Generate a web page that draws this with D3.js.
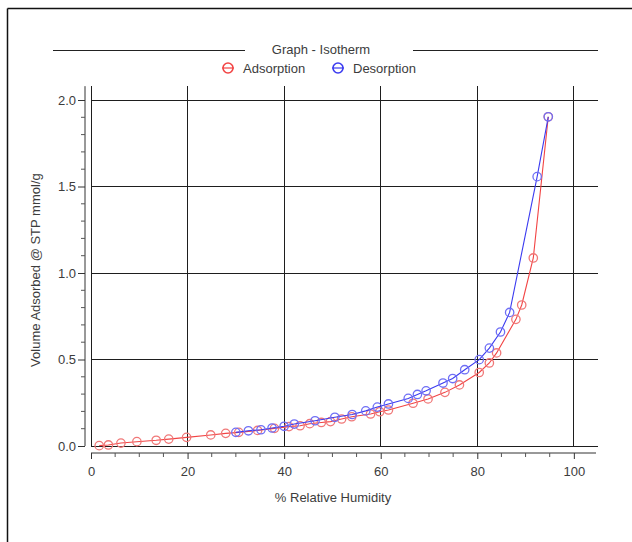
<!DOCTYPE html>
<html><head><meta charset="utf-8">
<script src="https://cdn.jsdelivr.net/npm/d3@7"></script>
<style>
html,body{margin:0;padding:0;background:#fff;}
svg{display:block;font-family:"Liberation Sans",Arial,sans-serif;}
</style></head>
<body>
<svg id="chart" width="632" height="542"></svg>
<script>
const title = "Graph - Isotherm";
const xLabel = "% Relative Humidity";
const yLabel = "Volume Adsorbed @ STP mmol/g";
const seriesNames = ["Adsorption", "Desorption"];
const xTicks = [0, 20, 40, 60, 80, 100];
const yTicks = [0, 0.5, 1.0, 1.5, 2.0];

const adsRH = [1.7, 3.6, 6.2, 9.5, 13.5, 16.1, 19.8, 24.8, 27.9, 30.6, 34.5, 38.0, 41.0, 43.3, 45.3, 47.7, 49.6, 51.9, 54.0, 57.9, 59.8, 61.6, 66.7, 69.8, 73.3, 76.3, 80.4, 82.5, 84.0, 88.0, 89.2, 91.6, 94.7];
const adsVol = [0.002, 0.006, 0.017, 0.025, 0.033, 0.040, 0.050, 0.064, 0.073, 0.079, 0.090, 0.102, 0.112, 0.117, 0.129, 0.136, 0.141, 0.156, 0.169, 0.185, 0.198, 0.208, 0.247, 0.272, 0.310, 0.353, 0.425, 0.480, 0.538, 0.732, 0.815, 1.087, 1.903];

const desRH = [30.0, 32.6, 35.2, 37.5, 40.0, 42.1, 46.4, 50.5, 54.1, 56.9, 59.3, 61.6, 65.7, 67.6, 69.4, 72.9, 74.9, 77.4, 80.4, 82.5, 84.8, 86.7, 92.4, 94.7];
const desVol = [0.079, 0.088, 0.094, 0.104, 0.114, 0.127, 0.146, 0.166, 0.182, 0.203, 0.225, 0.243, 0.275, 0.298, 0.319, 0.364, 0.390, 0.441, 0.499, 0.566, 0.659, 0.772, 1.557, 1.903];

const colors = {line: ["#f24444", "#3b3bf0"], mark: ["#f07878", "#6f6ff5"]};

const svg = d3.select("#chart");
const textColor = "#3c3c3c";

// outer frame
svg.append("line").attr("x1", 7.5).attr("x2", 632).attr("y1", 8.5).attr("y2", 8.5).attr("stroke", "#111").attr("stroke-width", 1.5);
svg.append("line").attr("x1", 7.5).attr("x2", 7.5).attr("y1", 8.5).attr("y2", 542).attr("stroke", "#111").attr("stroke-width", 1.5);

const x = d3.scaleLinear().domain([0, 105]).range([91, 598]);
const y = d3.scaleLinear().domain([0, 2.0]).range([446, 100]);
const yTop = y(2.08);

// grid
const g = svg.append("g").attr("shape-rendering", "crispEdges");
g.selectAll(".vg").data(xTicks).join("line")
  .attr("x1", d => x(d)).attr("x2", d => x(d)).attr("y1", yTop).attr("y2", y(0))
  .attr("stroke", "#1e1e1e").attr("stroke-width", 1);
g.selectAll(".hg").data(yTicks).join("line")
  .attr("x1", x(0)).attr("x2", x(105)).attr("y1", d => y(d)).attr("y2", d => y(d))
  .attr("stroke", "#1e1e1e").attr("stroke-width", 1);

// x axis (offset below)
const xAxisY = y(0) + 7;
const xMinor = d3.range(0, 101, 5).filter(v => v % 20 !== 0);
const xa = svg.append("g").attr("transform", `translate(0,${xAxisY})`)
  .call(d3.axisBottom(x).tickValues(xTicks).tickSize(6).tickPadding(8).tickFormat(d3.format("d")));
xa.select(".domain").attr("d", `M${x(0)},0H${x(105) - 2}`).attr("stroke", "#333");
xa.selectAll(".tick line").attr("stroke", "#333");
xa.selectAll("text").attr("font-size", 13).attr("fill", textColor).attr("font-family", "Liberation Sans, Arial, sans-serif");
xa.append("g").selectAll("line").data(xMinor).join("line")
  .attr("x1", d => x(d)).attr("x2", d => x(d)).attr("y1", 0).attr("y2", 4).attr("stroke", "#555");

// y axis (offset left)
const yAxisX = x(0) - 6;
const yMinor = d3.range(0, 21, 1).map(v => v / 10).filter(v => Math.abs(v * 2 - Math.round(v * 2)) > 1e-6);
const ya = svg.append("g").attr("transform", `translate(${yAxisX},0)`)
  .call(d3.axisLeft(y).tickValues(yTicks).tickSize(7).tickPadding(2).tickFormat(d3.format(".1f")));
ya.select(".domain").attr("d", `M0,${yTop}V${y(0)}`).attr("stroke", "#333");
ya.selectAll(".tick line").attr("stroke", "#333");
ya.selectAll("text").attr("font-size", 13).attr("fill", textColor).attr("font-family", "Liberation Sans, Arial, sans-serif");
ya.append("g").selectAll("line").data(yMinor).join("line")
  .attr("x1", -4).attr("x2", 0).attr("y1", d => y(d)).attr("y2", d => y(d)).attr("stroke", "#555");

// axis titles
svg.append("text").attr("x", 333).attr("y", 502).attr("text-anchor", "middle")
  .attr("font-size", 13).attr("fill", textColor).text(xLabel);
svg.append("text").attr("transform", `translate(40,${(y(0) + yTop) / 2 + 4}) rotate(-90)`)
  .attr("text-anchor", "middle").attr("font-size", 13).attr("fill", textColor).text(yLabel);

// title with side rules
svg.append("text").attr("x", 321).attr("y", 54).attr("text-anchor", "middle")
  .attr("font-size", 13).attr("fill", textColor).text(title);
svg.append("line").attr("x1", 53).attr("x2", 245).attr("y1", 50.5).attr("y2", 50.5).attr("stroke", "#222").attr("stroke-width", 1.2);
svg.append("line").attr("x1", 413).attr("x2", 598).attr("y1", 50.5).attr("y2", 50.5).attr("stroke", "#222").attr("stroke-width", 1.2);

// legend
const legendX = [228, 338];
seriesNames.forEach((name, i) => {
  const lg = svg.append("g").attr("transform", `translate(${legendX[i]},68)`);
  lg.append("line").attr("x1", -6).attr("x2", 6).attr("y1", 0).attr("y2", 0).attr("stroke", colors.line[i]).attr("stroke-width", 1.2);
  lg.append("circle").attr("r", 5).attr("fill", "none").attr("stroke", colors.line[i]).attr("stroke-width", 1.6);
  lg.append("text").attr("x", 15).attr("y", 4.5).attr("font-size", 13).attr("fill", textColor).text(name);
});

// series
const series = [
  adsRH.map((v, i) => [v, adsVol[i]]),
  desRH.map((v, i) => [v, desVol[i]])
];
const line = d3.line().x(d => x(d[0])).y(d => y(d[1]));
series.forEach((data, i) => {
  svg.append("path").datum(data).attr("d", line).attr("fill", "none")
    .attr("stroke", colors.line[i]).attr("stroke-width", 1.1);
  svg.append("g").selectAll("circle").data(data).join("circle")
    .attr("cx", d => x(d[0])).attr("cy", d => y(d[1])).attr("r", 4.2)
    .attr("fill", "none").attr("stroke", colors.mark[i]).attr("stroke-width", 1.3);
});
</script>
</body></html>
